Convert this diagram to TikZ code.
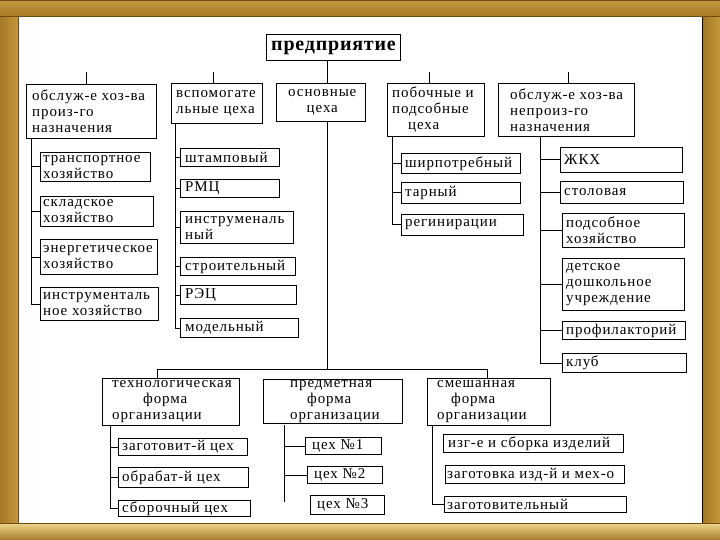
\documentclass[tikz,border=0pt]{standalone}
\usepackage{fontspec}
\setmainfont{Liberation Serif}
\newfontfamily\bxfont{Liberation Serif}[LetterSpace=6]
\newfontfamily\ttlfont{Liberation Serif}[LetterSpace=4]
\definecolor{gdark}{RGB}{110,78,22}
\definecolor{gmid}{RGB}{196,152,58}
\definecolor{gdeep}{RGB}{165,120,40}
\definecolor{glight}{RGB}{240,215,140}
\tikzset{
 bx/.style={draw=black, line width=1pt, anchor=north west, inner sep=0pt, fill=white},
 tx/.style={anchor=west, inner sep=0pt, align=left, font=\bxfont\fontsize{15}{16}\selectfont},
 ln/.style={line width=1pt, draw=black},
}
\newcommand\mkbox[8][]{%
 \node[bx, minimum width=#5pt, minimum height=#6pt] (#2) at (#3,#4) {};
 \node[tx,#1] (#2-t) at ([xshift=#7pt]#2.west) {#8};}
\begin{document}
\begin{tikzpicture}[x=1pt,y=-1pt]
\useasboundingbox (0,0) rectangle (720,540);
% ---- frame ----
\fill[white] (0,0) rectangle (720,540);
\shade[left color=gdeep, middle color=glight, right color=gmid] (0,17) rectangle (18,523);
\shade[left color=gdeep, middle color=glight, right color=gmid] (703,17) rectangle (720,523);
\shade[top color=gmid, middle color=glight, bottom color=gdeep] (0,0) rectangle (720,17);
\shade[top color=glight, middle color=gmid, bottom color=gdeep] (0,523) rectangle (720,540);
\draw[gdark, line width=1pt] (0,0.5) -- (720,0.5);
\draw[gdark, line width=0.8pt] (0,16.6) -- (720,16.6);
\draw[gdark, line width=0.8pt] (0,523.4) -- (720,523.4);
\draw[black, line width=1pt] (702.5,17) -- (702.5,523);
\draw[gdark, line width=0.6pt] (17.8,17) -- (17.8,523);
% ---- top ----
\node[bx, minimum width=134pt, minimum height=26pt, font=\ttlfont\bfseries\fontsize{20}{22}\selectfont] (P) at (266,34) {предприятие};
\mkbox{A}{26}{84}{130}{54}{6}{обслуж-е хоз-ва\\произ-го\\назначения}
\mkbox{B}{171}{83}{91}{40}{5}{вспомогате\\льные цеха}
\mkbox[align=center]{C}{276}{83}{89}{38}{12}{основные\\цеха}
\mkbox{D}{387}{83}{97}{53}{5}{побочные и\\подсобные\\\hspace*{16pt}цеха}
\mkbox{E}{498}{83}{136}{53}{12}{обслуж-е хоз-ва\\непроиз-го\\назначения}
% ---- A children ----
\mkbox{A1}{40}{152}{110}{29}{3}{транспортное\\хозяйство}
\mkbox{A2}{40}{196}{113}{30}{3}{складское\\хозяйство}
\mkbox{A3}{40}{239}{117}{35}{3}{энергетическое\\хозяйство}
\mkbox{A4}{40}{287}{118}{33}{3}{инструменталь\\ное хозяйство}
% ---- B children ----
\mkbox{B1}{180}{148}{99}{18}{5}{штамповый}
\mkbox{B2}{180}{179}{99}{18}{5}{РМЦ}
\mkbox{B3}{180}{211}{113}{32}{5}{инструменаль\\ный}
\mkbox{B4}{180}{257}{115}{18}{5}{строительный}
\mkbox{B5}{180}{285}{116}{19}{5}{РЭЦ}
\mkbox{B6}{180}{318}{118}{19}{5}{модельный}
% ---- D children ----
\mkbox{D1}{401}{153}{119}{20}{4}{ширпотребный}
\mkbox{D2}{401}{182}{119}{21}{4}{тарный}
\mkbox{D3}{401}{214}{122}{21}{4}{регинирации}
% ---- E children ----
\mkbox{E1}{560}{147}{122}{25}{4}{ЖКХ}
\mkbox{E2}{560}{181}{123}{22}{4}{столовая}
\mkbox{E3}{562}{213}{122}{34}{4}{подсобное\\хозяйство}
\mkbox{E4}{562}{258}{122}{52}{4}{детское\\дошкольное\\учреждение}
\mkbox{E5}{562}{321}{123}{18}{4}{профилакторий}
\mkbox{E6}{562}{353}{124}{19}{4}{клуб}
% ---- bottom ----
\mkbox{T}{102}{378}{137}{47}{10}{технологическая\\\hspace*{31pt}форма\\организации}
\mkbox{M}{263}{379}{139}{44}{27}{предметная\\\hspace*{17pt}форма\\организации}
\mkbox{S}{427}{378}{123}{47}{10}{смешанная\\\hspace*{14pt}форма\\организации}
\mkbox{T1}{118}{438}{129}{17}{4}{заготовит-й цех}
\mkbox{T2}{118}{467}{130}{20}{4}{обрабат-й цех}
\mkbox{T3}{118}{500}{132}{16}{4}{сборочный цех}
\mkbox{M1}{305}{437}{76}{17}{7}{цех №1}
\mkbox{M2}{307}{466}{75}{17}{7}{цех №2}
\mkbox{M3}{310}{495}{74}{19}{7}{цех №3}
\mkbox{S1}{443}{434}{180}{18}{5}{изг-е и сборка изделий}
\mkbox{S2}{445}{465}{179}{18}{2}{заготовка изд-й и мех-о}
\mkbox{S3}{444}{496}{182}{16}{3}{заготовительный}
% ---- connectors ----
\coordinate (pcx) at (327,60);
\draw[ln] (pcx) -- (pcx |- C.north);
\coordinate (As) at (86,72);
\coordinate (Bs) at (213,72);
\coordinate (Ds) at (429,72);
\coordinate (Es) at (568,72);
\foreach \s/\b in {As/A,Bs/B,Ds/D,Es/E} \draw[ln] (\s) -- (\s |- \b.north);
% A trunk
\coordinate (Ax) at (31,138);
\draw[ln] (Ax) |- (A4.west);
\foreach \c in {A1,A2,A3} \draw[ln] (Ax |- \c.west) -- (\c.west);
% B trunk
\coordinate (Bx) at (175,123);
\draw[ln] (Bx) |- (B6.west);
\foreach \c in {B1,B2,B3,B4,B5} \draw[ln] (Bx |- \c.west) -- (\c.west);
% D trunk
\coordinate (Dx) at (392,136);
\draw[ln] (Dx) |- (D3.west);
\foreach \c in {D1,D2} \draw[ln] (Dx |- \c.west) -- (\c.west);
% E trunk
\coordinate (Ex) at (540,136);
\draw[ln] (Ex) |- (E6.west);
\foreach \c in {E1,E2,E3,E4,E5} \draw[ln] (Ex |- \c.west) -- (\c.west);
% C down to forms
\coordinate (J) at (327,369);
\coordinate (Jl) at (157,369);
\coordinate (Jr) at (487,369);
\draw[ln] (pcx |- C.south) -- (J);
\draw[ln] (Jl |- T.north) -- (Jl) -- (Jr) -- (Jr |- S.north);
% T trunk
\coordinate (Tx) at (110,425);
\draw[ln] (Tx) |- (T3.west);
\foreach \c in {T1,T2} \draw[ln] (Tx |- \c.west) -- (\c.west);
% M trunk
\coordinate (Mx) at (284,425);
\coordinate (Me) at (284,502);
\draw[ln] (Mx) -- (Me);
\foreach \c in {M1,M2} \draw[ln] (Mx |- \c.west) -- (\c.west);
% S trunk
\coordinate (Sx) at (432,425);
\draw[ln] (Sx) |- (S3.west);
\end{tikzpicture}
\end{document}
